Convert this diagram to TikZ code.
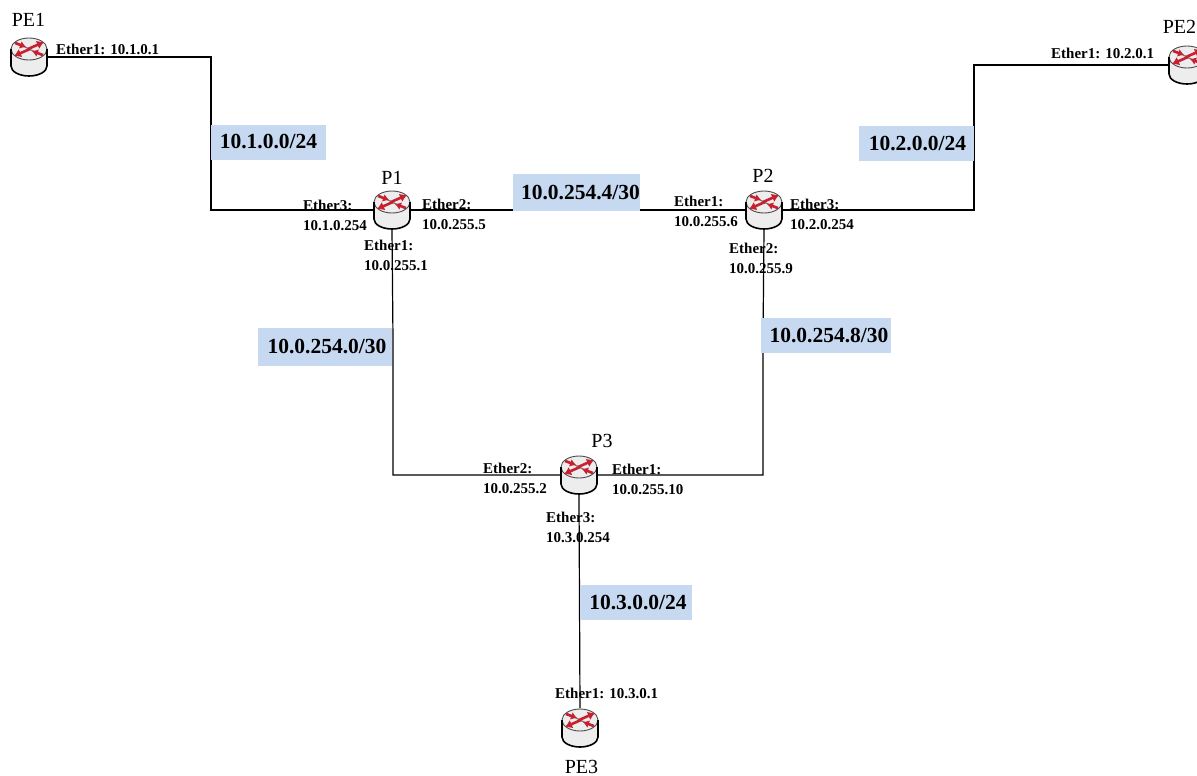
\documentclass[tikz,border=0pt]{standalone}
\usepackage{fontspec}
\setmainfont{Liberation Serif}
\usepackage{xcolor}
\usetikzlibrary{calc, arrows.meta}
\definecolor{netColor}{HTML}{C6D9F1}
\definecolor{arrowColor}{HTML}{C8202E}
\definecolor{crossColor}{HTML}{8A6A78}
\tikzset{
    routerbox/.style={minimum width=37pt, minimum height=40pt, inner sep=0pt, outer sep=0pt},
    routername/.style={font=\fontsize{20}{22}\selectfont},
    portlabel/.style={font=\bfseries\fontsize{15}{20}\selectfont, align=left, anchor=west, inner sep=0pt},
    netlabel/.style={fill=netColor, font=\bfseries\fontsize{21.5}{24}\selectfont, inner sep=0pt, minimum height=35pt},
    wire/.style={line width=1.2pt},
    routermark/.pic={
        \fill[black!7] (-18,-8) -- (-18,9) arc[start angle=180, end angle=0, x radius=18, y radius=10] -- (18,-8) arc[start angle=0, end angle=-180, x radius=18, y radius=11] -- cycle;
        \draw[line width=0.9pt, black!70] (0,-8) ellipse[x radius=18, y radius=11];
        \draw[line width=1.6pt] (-18,-8) -- (-18,9) arc[start angle=180, end angle=0, x radius=18, y radius=10] -- (18,-8);
        \draw[crossColor, line width=1.2pt] (-14,-15) -- (14,-1);
        \draw[crossColor, line width=1.2pt] (-14,-1) -- (14,-15);
        \draw[arrowColor, line width=2.6pt, -{Latex[length=7pt,width=9pt]}] (-1,-8) -- (15,-15);
        \draw[arrowColor, line width=2.6pt, -{Latex[length=7pt,width=9pt]}] (1,-8) -- (-15,-1);
        \draw[arrowColor, line width=2.6pt, -{Latex[length=6pt,width=8pt]}] (-14,-14) -- (-3,-10);
        \draw[arrowColor, line width=2.6pt, -{Latex[length=6pt,width=8pt]}] (14,-2) -- (3,-6);
    },
}

\begin{document}
\begin{tikzpicture}[x=1pt, y=-1pt]
    \useasboundingbox (0,0) rectangle (1197,776);

    % routers
    \node[routerbox] (PE1) at (29,57) {};
    \node[routerbox] (PE2) at (1187,65) {};
    \node[routerbox] (PE3) at (580,728) {};
    \node[routerbox] (P1) at (392,210) {};
    \node[routerbox] (P2) at (764,210) {};
    \node[routerbox] (P3) at (579,475) {};

    % bends
    \coordinate (bendA) at (211,134);
    \coordinate (bendB) at (974,138);
    \coordinate (bendC) at (393,340);
    \coordinate (bendD) at (763,340);

    % links
    \draw[wire] (PE1.east) -| (bendA) |- (P1.west);
    \draw[wire] (PE2.west) -| (bendB) |- (P2.east);
    \draw[wire] (P1.east) -- (P2.west);
    \draw[wire] (P1.south) -- (bendC) |- (P3.west);
    \draw[wire] (P2.south) -- (bendD) |- (P3.east);
    \draw[wire] (P3.south) -- (PE3.north);

    % subnets
    \node[netlabel, minimum width=115pt] (netA) at (268.5,142) {10.1.0.0/24};
    \node[netlabel, minimum width=115pt] (netB) at (916.5,143.5) {\hspace*{2pt}10.2.0.0/24};
    \node[netlabel, minimum width=127pt, minimum height=37pt] (netC) at (576.5,192.5) {\hspace*{8pt}10.0.254.4/30};
    \node[netlabel, minimum width=134pt, minimum height=38pt] (netD) at (325,347) {\hspace*{4pt}10.0.254.0/30};
    \node[netlabel, minimum width=130pt] (netE) at (826,335) {\hspace*{6pt}10.0.254.8/30};
    \node[netlabel, minimum width=112pt] (netF) at (636,602.5) {\hspace*{4pt}10.3.0.0/24};

    % router icons
    \foreach \r in {PE1,PE2,PE3,P1,P2,P3}
        \pic at (\r) {routermark};

    % router names
    \node[routername] (namePE1) at (28.5,20) {PE1};
    \node[routername] (namePE2) at (1179.5,27) {PE2};
    \node[routername] (namePE3) at (581.5,767) {PE3};
    \node[routername] (nameP1) at (392,178) {P1};
    \node[routername] (nameP2) at (763,176) {P2};
    \node[routername] (nameP3) at (602,441) {P3};

    % ports
    \node[portlabel] (portA) at (56,49) {Ether1: 10.1.0.1};
    \node[portlabel] (portB) at (1051,53) {Ether1: 10.2.0.1};
    \node[portlabel] (portC) at (555,693) {Ether1: 10.3.0.1};
    \node[portlabel] (portD) at (303,215) {Ether3:\\10.1.0.254};
    \node[portlabel] (portE) at (422,214) {Ether2:\\10.0.255.5};
    \node[portlabel] (portF) at (364,255) {Ether1:\\10.0.255.1};
    \node[portlabel] (portG) at (674,211) {Ether1:\\10.0.255.6};
    \node[portlabel] (portH) at (790,214) {Ether3:\\10.2.0.254};
    \node[portlabel] (portI) at (729,258) {Ether2:\\10.0.255.9};
    \node[portlabel] (portJ) at (483,478) {Ether2:\\10.0.255.2};
    \node[portlabel] (portK) at (612,479) {Ether1:\\10.0.255.10};
    \node[portlabel] (portL) at (546,527) {Ether3:\\10.3.0.254};
\end{tikzpicture}
\end{document}
